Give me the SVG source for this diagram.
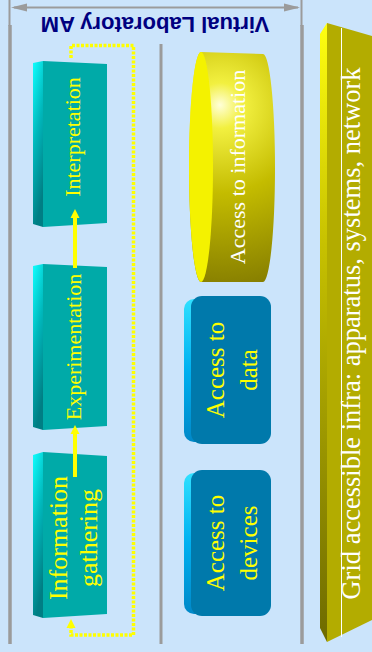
<svg xmlns="http://www.w3.org/2000/svg" width="372" height="652" viewBox="0 0 372 652">
<defs>
<style>
.sep{stroke:#9b9b9b;fill:none}
.tealFront{fill:#00aaa8}
.blueFront{fill:#0079ab}
.ylw{font-family:"Liberation Serif","Times New Roman",serif;fill:#ffff00}
.wht{font-family:"Liberation Serif","Times New Roman",serif;fill:#ffffff}
.flow{stroke:#ffff00;stroke-width:4;fill:none}
.dot{stroke:#ffff00;stroke-width:3.5;fill:none;stroke-dasharray:3 1.5}
</style>
<linearGradient id="tealSide" x1="0" y1="0" x2="0.3" y2="1">
<stop offset="0" stop-color="#10ffff"/>
<stop offset="0.5" stop-color="#00b8bc"/>
<stop offset="1" stop-color="#007e84"/>
</linearGradient>
<linearGradient id="blueSide" x1="0" y1="0" x2="0" y2="1">
<stop offset="0" stop-color="#30e0ff"/>
<stop offset="0.5" stop-color="#00b0f0"/>
<stop offset="1" stop-color="#0088c8"/>
</linearGradient>
<linearGradient id="oliveSide" x1="0" y1="0" x2="0" y2="1">
<stop offset="0" stop-color="#ffff10"/>
<stop offset="0.35" stop-color="#c8c200"/>
<stop offset="1" stop-color="#6e6a00"/>
</linearGradient>
<radialGradient id="cylBody" gradientUnits="userSpaceOnUse" cx="222" cy="110" r="190" fx="220" fy="105">
<stop offset="0" stop-color="#ffffd8"/>
<stop offset="0.12" stop-color="#f2f040"/>
<stop offset="0.45" stop-color="#c4bc00"/>
<stop offset="1" stop-color="#7e7600"/>
</radialGradient>
<marker id="ah" viewBox="0 0 10 10" refX="10" refY="5" markerWidth="6" markerHeight="6" markerUnits="userSpaceOnUse" orient="auto">
<path d="M0,0 L10,5 L0,10 z" fill="#9b9b9b"/>
</marker>
</defs>
<rect width="372" height="652" fill="#cbe4fb"/>

<g id="frame">
<line class="sep" x1="9.5" y1="0" x2="9.5" y2="26" stroke-width="2"/>
<line class="sep" x1="10" y1="25" x2="10" y2="644" stroke-width="3.5"/>
<line class="sep" x1="301.5" y1="0" x2="301.5" y2="26" stroke-width="2"/>
<line class="sep" x1="302" y1="25" x2="302" y2="644" stroke-width="3.5"/>
<line class="sep" x1="161" y1="44" x2="161" y2="644" stroke-width="3"/>
<line x1="14" y1="7.5" x2="298" y2="7.5" stroke="#9b9b9b" stroke-width="2"/>
<path d="M11,7.5 L27,3.5 L27,11.5 z" fill="#9b9b9b"/>
<path d="M300,7.5 L284,3.5 L284,11.5 z" fill="#9b9b9b"/>
<text transform="translate(155,17) rotate(180)" text-anchor="middle" font-family="'Liberation Sans',Arial,sans-serif" font-weight="bold" font-size="22" fill="#000080">Virtual Laboratory AM</text>
</g>

<g id="interpretation">
<polygon points="33,63 43,61 43,227 33,224" fill="url(#tealSide)"/>
<polygon class="tealFront" points="43,61 107,64 107,223 43,227"/>
<text class="ylw" transform="translate(80,137) rotate(-90)" text-anchor="middle" font-size="22">Interpretation</text>
</g>

<g id="experimentation">
<polygon points="33,266 43,264 43,430 33,427" fill="url(#tealSide)"/>
<polygon class="tealFront" points="43,264 107,267 107,426 43,430"/>
<text class="ylw" transform="translate(81,347) rotate(-90)" text-anchor="middle" font-size="22">Experimentation</text>
</g>

<g id="information-gathering">
<polygon points="33,455 43,452 43,618 33,615" fill="url(#tealSide)"/>
<polygon class="tealFront" points="43,452 107,456 107,614 43,618"/>
<text class="ylw" transform="translate(67,538) rotate(-90)" text-anchor="middle" font-size="26">Information</text>
<text class="ylw" transform="translate(97,538) rotate(-90)" text-anchor="middle" font-size="26">gathering</text>
</g>

<g id="connectors">
<line class="flow" x1="75" y1="268" x2="75" y2="216"/>
<path d="M75,209 L79.5,218 L70.5,218 z" fill="#ffff00"/>
<line class="flow" x1="75" y1="477" x2="75" y2="431"/>
<path d="M75,425 L79.5,434 L70.5,434 z" fill="#ffff00"/>
<path class="dot" d="M71,58 L71,45.5 L133.5,45.5 L133.5,635 L71,635 L71,627"/>
<path d="M71,619 L75.5,628 L66.5,628 z" fill="#ffff00"/>
</g>

<g id="access-information">
<path d="M201,52 L263,54 A12,114 0 0 1 263,282 L201,282 A12,115 0 0 1 201,52 z" fill="url(#cylBody)"/>
<ellipse cx="201" cy="167" rx="12" ry="115" fill="#f4f200"/>
<text class="wht" transform="translate(245,167) rotate(-90)" text-anchor="middle" font-size="22">Access to information</text>
</g>

<g id="access-data">
<rect x="184" y="299" width="80" height="143" rx="10" fill="url(#blueSide)"/>
<rect class="blueFront" x="191" y="296" width="80" height="148" rx="11"/>
<text class="ylw" transform="translate(224,370) rotate(-90)" text-anchor="middle" font-size="25">Access to</text>
<text class="ylw" transform="translate(257,370) rotate(-90)" text-anchor="middle" font-size="25">data</text>
</g>

<g id="access-devices">
<rect x="184" y="473" width="80" height="141" rx="10" fill="url(#blueSide)"/>
<rect class="blueFront" x="191" y="470" width="80" height="146" rx="11"/>
<text class="ylw" transform="translate(224,543) rotate(-90)" text-anchor="middle" font-size="25">Access to</text>
<text class="ylw" transform="translate(257,543) rotate(-90)" text-anchor="middle" font-size="25">devices</text>
</g>

<g id="grid-infra">
<polygon points="320,34 327,23 327,642 320,628" fill="url(#oliveSide)"/>
<polygon points="327,23 372,36 372,620 327,642" fill="#b3ac00"/>
<line x1="341.5" y1="28" x2="341.5" y2="637" stroke="#ffffff" stroke-width="1"/>
<text class="wht" transform="translate(360,333.5) rotate(-90)" text-anchor="middle" font-size="26.5">Grid accessible infra: apparatus, systems, network</text>
</g>
</svg>
